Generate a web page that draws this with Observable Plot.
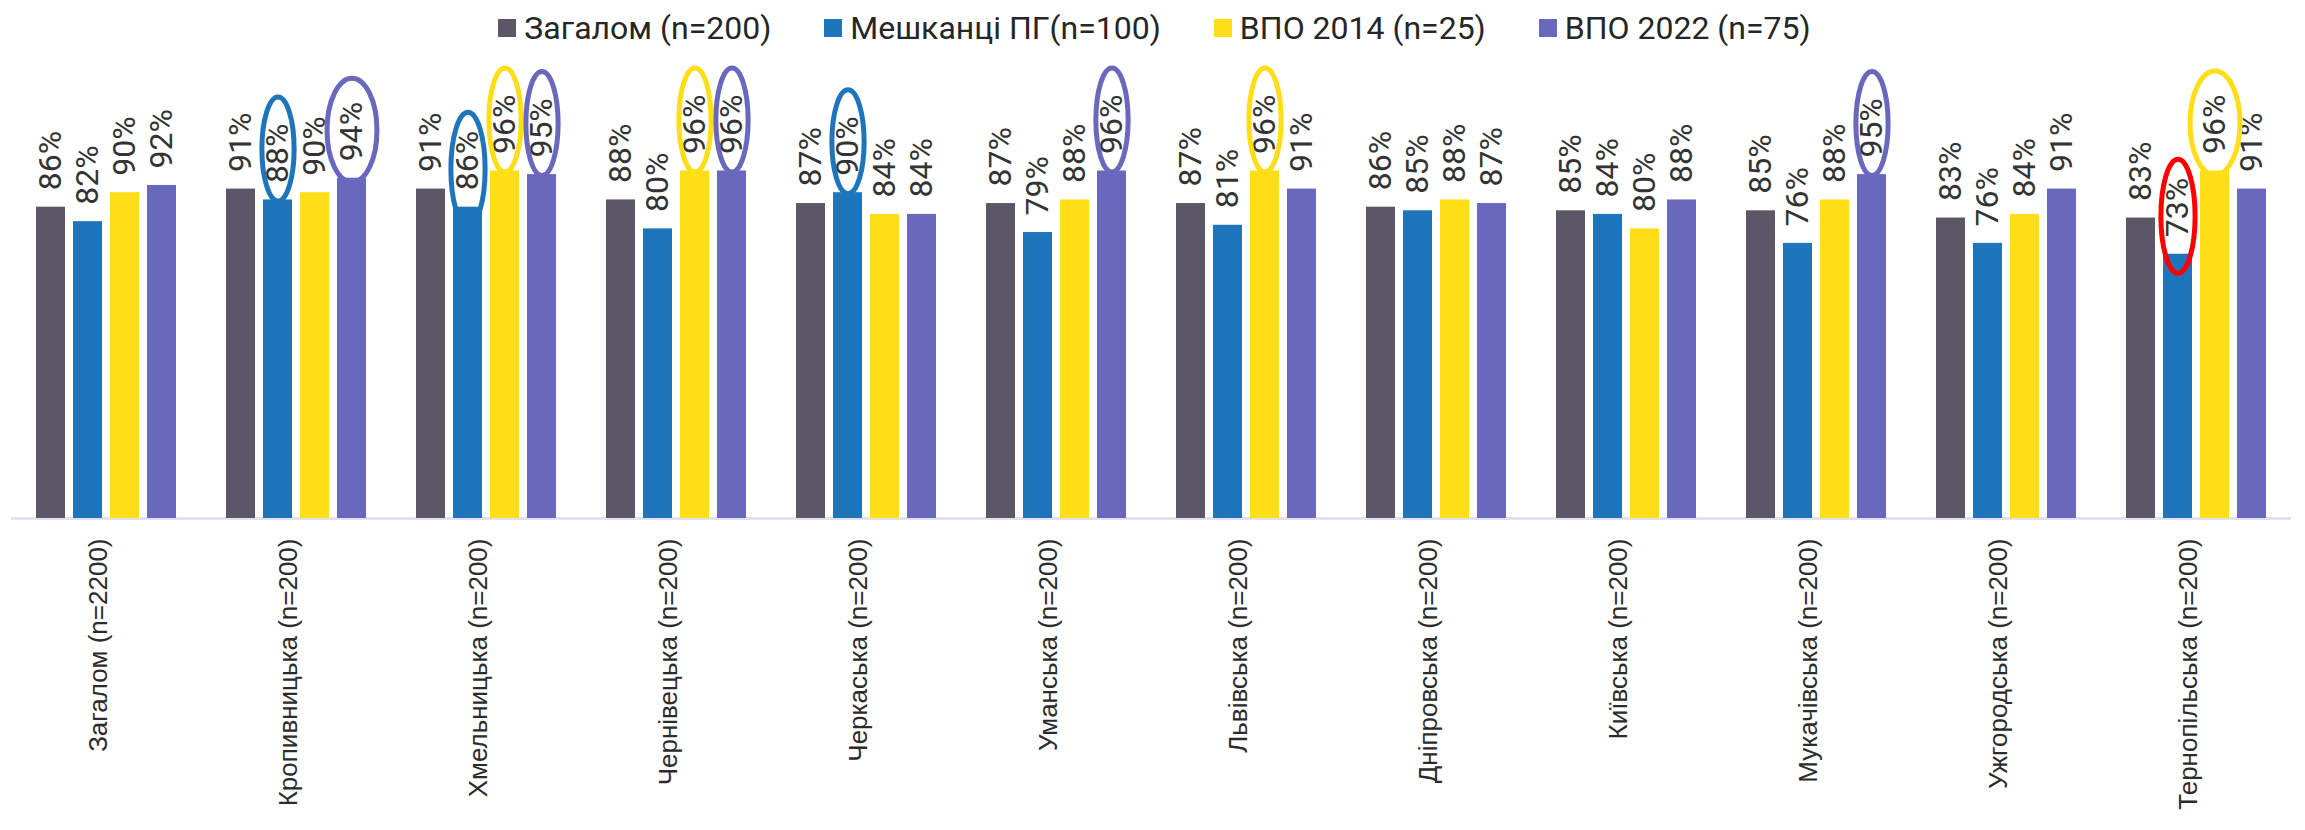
<!DOCTYPE html>
<html>
<head>
<meta charset="utf-8">
<script src="https://cdn.jsdelivr.net/npm/d3@7"></script>
<script src="https://cdn.jsdelivr.net/npm/@observablehq/plot@0.6"></script>
<style>
  html, body { margin: 0; padding: 0; background: #fff; }
  #legend { height: 56px; display: flex; justify-content: center; align-items: center; gap: 53px;
            font-family: Roboto, "Noto Sans", sans-serif; font-size: 32px; color: #262626; padding-left: 4px; box-sizing: border-box; }
  .item { display: flex; align-items: center; gap: 8px; white-space: nowrap; }
  .sw { width: 18px; height: 18px; display: inline-block; }
</style>
</head>
<body>
<div id="legend"></div>
<div id="chart"></div>
<script>
const categories = ["Загалом (n=2200)", "Кропивницька (n=200)", "Хмельницька (n=200)", "Чернівецька (n=200)",
  "Черкаська (n=200)", "Уманська (n=200)", "Львівська (n=200)", "Дніпровська (n=200)",
  "Київська (n=200)", "Мукачівська (n=200)", "Ужгородська (n=200)", "Тернопільська (n=200)"];
const series = ["Загалом (n=200)", "Мешканці ПГ(n=100)", "ВПО 2014 (n=25)", "ВПО 2022 (n=75)"];
const totalValues     = [86, 91, 91, 88, 87, 87, 87, 86, 85, 85, 83, 83];
const residentsValues = [82, 88, 86, 80, 90, 79, 81, 85, 84, 76, 76, 73];
const idp2014Values   = [90, 90, 96, 96, 84, 88, 96, 88, 80, 88, 84, 96];
const idp2022Values   = [92, 94, 95, 96, 84, 96, 91, 87, 88, 95, 91, 91];

// highlighted (circled) values
const highlightCategories = ["Кропивницька (n=200)", "Кропивницька (n=200)",
  "Хмельницька (n=200)", "Хмельницька (n=200)", "Хмельницька (n=200)",
  "Чернівецька (n=200)", "Чернівецька (n=200)", "Черкаська (n=200)", "Уманська (n=200)",
  "Львівська (n=200)", "Мукачівська (n=200)", "Тернопільська (n=200)", "Тернопільська (n=200)"];
const highlightSeries = ["Мешканці ПГ(n=100)", "ВПО 2022 (n=75)",
  "Мешканці ПГ(n=100)", "ВПО 2014 (n=25)", "ВПО 2022 (n=75)",
  "ВПО 2014 (n=25)", "ВПО 2022 (n=75)", "Мешканці ПГ(n=100)", "ВПО 2022 (n=75)",
  "ВПО 2014 (n=25)", "ВПО 2022 (n=75)", "Мешканці ПГ(n=100)", "ВПО 2014 (n=25)"];
const highlightLow = [false, false, false, false, false, false, false, false, false, false, false, true, false];

const colors = ["#5B5767", "#1F75BC", "#FFDE17", "#6A68BD"];
const lowColor = "#FF0000";

const seriesValues = [totalValues, residentsValues, idp2014Values, idp2022Values];
const rows = [];
categories.forEach((c, i) => series.forEach((s, j) => rows.push({category: c, series: s, value: seriesValues[j][i]})));
const lookup = new Map(rows.map(r => [r.category + "|" + r.series, r.value]));
const highlights = highlightCategories.map((c, i) => ({
  category: c, series: highlightSeries[i], value: lookup.get(c + "|" + highlightSeries[i]),
  color: highlightLow[i] ? lowColor : colors[series.indexOf(highlightSeries[i])]
}));

// legend
const legend = document.getElementById("legend");
series.forEach((s, j) => {
  const it = document.createElement("div"); it.className = "item";
  const sw = document.createElement("span"); sw.className = "sw"; sw.style.background = colors[j];
  const tx = document.createElement("span"); tx.textContent = s;
  it.append(sw, tx); legend.append(it);
});

// hand-drawn ellipse shapes (style, not data)
function makeEllipse(aspect) {
  return {
    draw(ctx, size) {
      const ry = Math.sqrt(size / Math.PI), rx = ry * aspect, k = 0.5523;
      ctx.moveTo(rx, 0);
      ctx.bezierCurveTo(rx, k * ry, k * rx, ry, 0, ry);
      ctx.bezierCurveTo(-k * rx, ry, -rx, k * ry, -rx, 0);
      ctx.bezierCurveTo(-rx, -k * ry, -k * rx, -ry, 0, -ry);
      ctx.bezierCurveTo(k * rx, -ry, rx, -k * ry, rx, 0);
      ctx.closePath();
    }
  };
}
const wideKeys = new Set(["Кропивницька (n=200)|ВПО 2022 (n=75)", "Тернопільська (n=200)|ВПО 2014 (n=25)"]);
const tallKeys = new Set(["Хмельницька (n=200)|Мешканці ПГ(n=100)", "Тернопільська (n=200)|Мешканці ПГ(n=100)"]);
const keyOf = d => d.category + "|" + d.series;
const ellipseMark = (filter, aspect, r, dy) => Plot.dot(highlights, {
  filter, fx: "category", x: "series", y: "value", dy, r,
  symbol: makeEllipse(aspect), stroke: "color", fill: "none", strokeWidth: 5
});

const chart = Plot.plot({
  width: 2305,
  height: 774,
  marginLeft: 9,
  marginRight: 12,
  marginTop: 100,
  marginBottom: 312,
  style: {fontFamily: "'Liberation Sans', Arial, sans-serif", background: "#fff"},
  fx: {domain: categories, paddingInner: 0, paddingOuter: 0, axis: null, label: null},
  x: {domain: series, paddingInner: 0.21, paddingOuter: 0.61, axis: null, label: null},
  y: {domain: [0, 100], axis: null, label: null},
  color: {domain: series, range: colors},
  marks: [
    Plot.ruleY([0], {stroke: "#E3E1F1", strokeWidth: 3}),
    Plot.barY(rows, {fx: "category", x: "series", y: "value", fill: "series"}),
    Plot.text(rows, {fx: "category", x: "series", y: "value", text: d => d.value + "%",
      rotate: -90, textAnchor: "start", dy: -17, fontSize: 32, fontFamily: "Roboto, sans-serif", fill: "#333333"}),
    ellipseMark(d => !wideKeys.has(keyOf(d)) && !tallKeys.has(keyOf(d)), 0.31, 52, -51),
    ellipseMark(d => wideKeys.has(keyOf(d)), 0.48, 52, -48),
    ellipseMark(d => tallKeys.has(keyOf(d)), 0.3, 57, -38),
    Plot.text(categories, {fx: d => d, text: d => d, frameAnchor: "bottom",
      rotate: -90, textAnchor: "end", dy: 20, fontSize: 26, fill: "#2b2b2b"})
  ]
});
document.getElementById("chart").append(chart);
</script>
</body>
</html>
